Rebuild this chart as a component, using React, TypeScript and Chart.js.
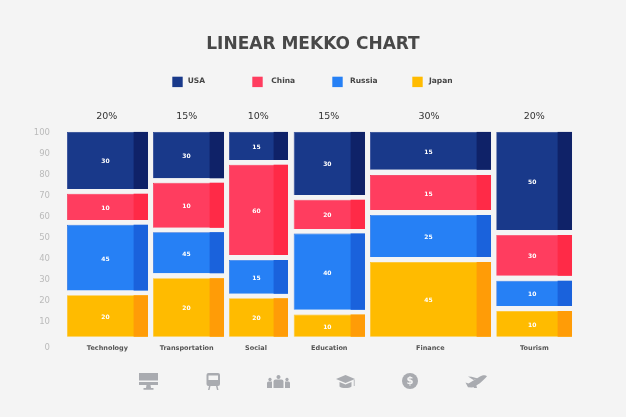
import React, { useEffect, useRef } from "react";
import { Chart, BarController, registerables } from "chart.js";

const titleText = "LINEAR MEKKO CHART";
const categories = ["Technology", "Transportation", "Social", "Education", "Finance", "Tourism"];
const shares = ["20%", "15%", "10%", "15%", "30%", "20%"];
const yTickValues = [100, 90, 80, 70, 60, 50, 40, 30, 20, 10];

// Column extents along the horizontal axis
const columnStart = [0, 17.03, 32.08, 44.89, 60, 85.01];
const columnEnd = [16.04, 31.09, 43.76, 59.01, 83.96, 100];
const shareTickAt = [7.87, 23.7, 37.88, 51.82, 71.68, 92.54];
const categoryTickAt = [8, 23.7, 37.43, 51.94, 71.94, 92.54];

// Segment extents on the vertical axis
const usaTop = [100.5, 100.5, 100.5, 100.5, 100.5, 100.5];
const usaBottom = [73.2, 78.3, 87, 70.4, 82.4, 53.7];
const chinaTop = [71, 76.2, 84.8, 68.1, 79.9, 51.4];
const chinaBottom = [58.5, 54.8, 41.8, 54.2, 63.2, 32];
const russiaTop = [56.25, 52.6, 39.5, 52, 60.9, 29.6];
const russiaBottom = [24.9, 33.1, 23.4, 15.8, 40.9, 17.6];
const japanTop = [22.7, 30.8, 21.3, 13.5, 38.5, 15.2];
const japanBottom = [3, 3, 3, 3, 3, 3];

// Printed segment labels
const usaLabels = ["30", "30", "15", "30", "15", "50"];
const chinaLabels = ["10", "10", "60", "20", "15", "30"];
const russiaLabels = ["45", "45", "15", "40", "25", "10"];
const japanLabels = ["20", "20", "20", "10", "45", "10"];

const BG = "#f4f4f4";
const ZERO_TICK = -2.4;
const SHADE_WIDTH = 2.85;
const UI_FONT = "'DejaVu Sans', sans-serif";

class MekkoController extends BarController {
  static id = "mekko";
  static defaults = BarController.defaults;
  static overrides = BarController.overrides;
  _calculateBarIndexPixels(index: number) {
    const d: any = (this as any).getDataset().data[index];
    const scale = (this as any)._cachedMeta.iScale;
    const a = scale.getPixelForValue(d.x0);
    const b = scale.getPixelForValue(d.x1);
    return { base: a, head: b, center: (a + b) / 2, size: b - a };
  }
}
Chart.register(...registerables, MekkoController);

const mainRows = (top: number[], bottom: number[]) =>
  categories.map((_, i) => ({
    x: (columnStart[i] + columnEnd[i]) / 2,
    x0: columnStart[i],
    x1: columnEnd[i],
    y: [bottom[i], top[i]],
  }));
const shadeRows = (top: number[], bottom: number[]) =>
  categories.map((_, i) => ({
    x: columnEnd[i] - SHADE_WIDTH / 2,
    x0: columnEnd[i] - SHADE_WIDTH,
    x1: columnEnd[i],
    y: [bottom[i], top[i]],
  }));

const seriesDefs = [
  { label: "USA", top: usaTop, bottom: usaBottom, labels: usaLabels, color: "#19398a", shade: "#0f2268", edge: "#0d2a86" },
  { label: "China", top: chinaTop, bottom: chinaBottom, labels: chinaLabels, color: "#ff3d5f", shade: "#ff2a47", edge: "#f0254a" },
  { label: "Russia", top: russiaTop, bottom: russiaBottom, labels: russiaLabels, color: "#2680f5", shade: "#1a62dc", edge: "#1a62dc" },
  { label: "Japan", top: japanTop, bottom: japanBottom, labels: japanLabels, color: "#ffbb00", shade: "#ff9c07", edge: "#ffc01c" },
];

const ICON_FILL = "#a9abb0";
const icons = [
  { x: 139, y: 373, paths: ["M0 0h19v7.5H0z", "M0 9h19v3H0z", "M7.5 12h4l.5 3h2.5v1.7h-10V15h2.5z"] },
  { x: 206.5, y: 373, paths: ["M2 0h9.5a2 2 0 0 1 2 2v9a2 2 0 0 1-2 2H2a2 2 0 0 1-2-2V2a2 2 0 0 1 2-2z M2 2.5v4.5h9.5V2.5z", "M2.5 13h1.5l-1 4H1.5z", "M9.5 13h1.5l1 4h-1.5z"] },
  { x: 267, y: 375, paths: ["M11.5 0a2 2 0 1 1-.01 0z", "M8.5 4.5h6a2 2 0 0 1 2 2V13h-10V6.5a2 2 0 0 1 2-2z", "M3 2.8a1.7 1.7 0 1 1-.01 0z", "M1.5 6.5h3.5V13H0V8a1.5 1.5 0 0 1 1.5-1.5z", "M20 2.8a1.7 1.7 0 1 1-.01 0z", "M18 6.5h3.5A1.5 1.5 0 0 1 23 8v5h-5z"] },
  { x: 336, y: 375, paths: ["M9.5 0L19 4 9.5 8 0 4z", "M3.5 7v4.5c2 2 10 2 12 0V7L9.5 9.5z", "M17.8 5v6h.8V4.6z"] },
  { x: 465, y: 375, paths: ["M22 1.2C20.5-.3 17.5.2 15 1.6L3.5 8.5.5 7.5 3 12.2 7 12.6C12 11 18 6 22 1.2z", "M8.5 5L3 1.5 6.5 1.8 13 3.5z", "M11 9l1 4H9L7.8 10.8z"] },
];

const decorations = {
  id: "decorations",
  afterDraw(chart: any) {
    const ctx = chart.ctx;
    ctx.save();
    const swatchX = [172.3, 252.3, 332.3, 412.3];
    const textX = [187.7, 271.3, 350, 429];
    seriesDefs.forEach((s, i) => {
      ctx.fillStyle = s.color;
      ctx.fillRect(swatchX[i], 76.7, 10.4, 10.4);
      ctx.fillStyle = "#444";
      ctx.font = `bold 7.5px ${UI_FONT}`;
      ctx.textAlign = "left";
      ctx.textBaseline = "middle";
      ctx.fillText(s.label, textX[i], 81.5);
    });
    ctx.fillStyle = ICON_FILL;
    icons.forEach((ic) => {
      ctx.save();
      ctx.translate(ic.x, ic.y);
      ic.paths.forEach((p) => ctx.fill(new Path2D(p), "evenodd"));
      ctx.restore();
    });
    ctx.beginPath();
    ctx.arc(410, 381, 8, 0, Math.PI * 2);
    ctx.fill();
    ctx.fillStyle = BG;
    ctx.font = `bold 10px ${UI_FONT}`;
    ctx.textAlign = "center";
    ctx.textBaseline = "middle";
    ctx.fillText("$", 410, 381.5);
    ctx.restore();
  },
};

const valueLabels = {
  id: "valueLabels",
  afterDatasetsDraw(chart: any) {
    const ctx = chart.ctx;
    ctx.save();
    ctx.fillStyle = "#ffffff";
    ctx.font = `bold 6px ${UI_FONT}`;
    ctx.textAlign = "center";
    ctx.textBaseline = "middle";
    chart.data.datasets.forEach((ds: any, di: number) => {
      if (!ds.valueLabels) return;
      chart.getDatasetMeta(di).data.forEach((el: any, i: number) => {
        ctx.fillText(ds.valueLabels[i], el.x - 2, (el.y + el.base) / 2 + 1.5);
      });
    });
    ctx.restore();
  },
};

const noPadding = (s: any) => {
  s.paddingLeft = 0;
  s.paddingRight = 0;
  s.paddingTop = 0;
  s.paddingBottom = 0;
};

export default function App() {
  const ref = useRef<HTMLCanvasElement>(null);
  useEffect(() => {
    const datasets: any[] = [];
    // Chart.js paints earlier datasets on top, so each shade strip goes first.
    seriesDefs.forEach((s) => {
      datasets.push({
        label: s.label + " shade",
        data: shadeRows(s.top, s.bottom),
        backgroundColor: s.shade,
        borderWidth: 0,
        inflateAmount: 0,
      });
      datasets.push({
        label: s.label,
        data: mainRows(s.top, s.bottom),
        backgroundColor: s.color,
        borderColor: s.edge,
        borderWidth: 0.7,
        inflateAmount: 0,
        valueLabels: s.labels,
      });
    });
    const hiddenAxisLines = { grid: { display: false, drawTicks: false, offset: false }, border: { display: false } };
    const chart = new Chart(ref.current as HTMLCanvasElement, {
      type: "mekko" as any,
      data: { datasets },
      plugins: [valueLabels, decorations],
      options: {
        responsive: false,
        animation: false,
        devicePixelRatio: 1,
        layout: { padding: 0 },
        plugins: {
          legend: { display: false },
          tooltip: { enabled: false },
          title: {
            display: true,
            text: titleText,
            color: "#484848",
            font: { family: UI_FONT, size: 17, weight: "bold" },
            padding: { top: 34, bottom: 48.6 },
          },
        },
        scales: {
          x: {
            type: "linear",
            position: "bottom",
            offset: false,
            min: 0,
            max: 110.69,
            ...hiddenAxisLines,
            afterBuildTicks: (s: any) => { s.ticks = categoryTickAt.map((value) => ({ value })); },
            afterFit: (s: any) => { s.height = 73; noPadding(s); },
            ticks: {
              autoSkip: false,
              maxRotation: 0,
              padding: 0,
              color: "#555555",
              font: { family: UI_FONT, size: 6.5, weight: "bold" },
              callback: (_v: any, i: number) => categories[i],
            },
          },
          xTop: {
            type: "linear",
            position: "top",
            offset: false,
            min: 0,
            max: 110.69,
            ...hiddenAxisLines,
            afterBuildTicks: (s: any) => { s.ticks = shareTickAt.map((value) => ({ value })); },
            afterFit: (s: any) => { s.height = 28.65; noPadding(s); },
            ticks: {
              autoSkip: false,
              maxRotation: 0,
              padding: 9,
              color: "#333333",
              font: { family: UI_FONT, size: 9.5, weight: 500 },
              callback: (_v: any, i: number) => shares[i],
            },
          },
          y: {
            type: "linear",
            min: -0.5,
            max: 100.5,
            ...hiddenAxisLines,
            afterBuildTicks: (s: any) => {
              s.ticks = [...yTickValues, ZERO_TICK].map((value) => ({ value }));
            },
            afterFit: (s: any) => { s.width = 67; noPadding(s); },
            ticks: {
              autoSkip: false,
              padding: 17,
              color: "#bbbbbb",
              font: { family: UI_FONT, size: 8.5 },
              callback: (v: any) => (v < 0 ? "0" : String(v)),
            },
          },
        },
      } as any,
    });
    return () => chart.destroy();
  }, []);
  return (
    <div style={{ position: "fixed", left: 0, top: 0, width: 626, height: 417, background: BG }}>
      <canvas ref={ref} width={626} height={417} style={{ display: "block" }} />
    </div>
  );
}
